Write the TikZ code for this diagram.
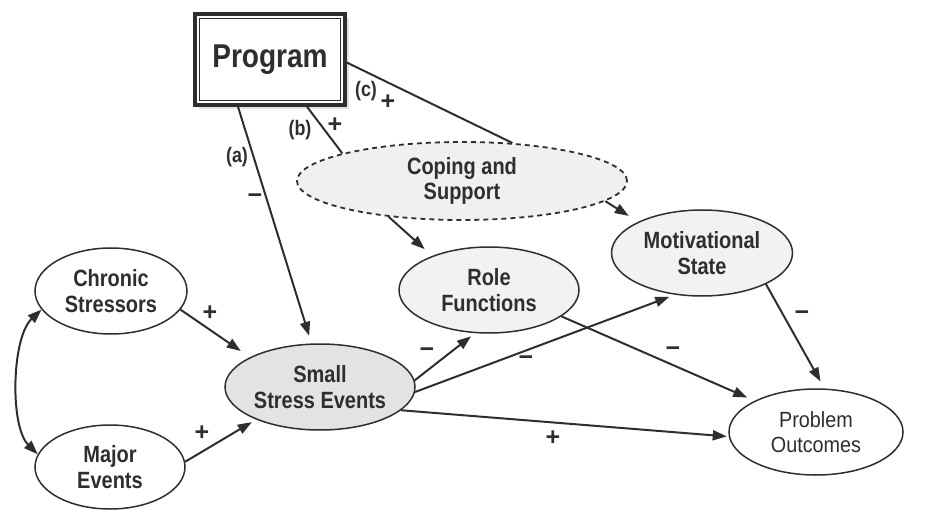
\documentclass[tikz,border=0pt]{standalone}
\usepackage{fontspec}
\setmainfont{Liberation Sans}
\newfontfamily\nar[FakeStretch=0.85]{Liberation Sans}
\newfontfamily\narr[FakeStretch=0.9]{Liberation Sans}
\usetikzlibrary{arrows.meta,shapes.geometric,shadows}
\definecolor{ink}{HTML}{2E2E2E}
\begin{document}
\begin{tikzpicture}[x=1pt,y=-1pt,
  ell/.style={ellipse, draw=ink, line width=1.5pt, inner sep=0pt, align=center,
    font=\nar\fontsize{23.5}{25.5}\selectfont\bfseries, text=ink},
  arr/.style={draw=ink, line width=2pt, -{Triangle[length=14pt,width=10pt]}},
  plain/.style={draw=ink, line width=2pt},
  sign/.style={font=\fontsize{25}{26}\selectfont\bfseries, text=ink, inner sep=0pt},
  lab/.style={font=\nar\fontsize{21}{22}\selectfont\bfseries, text=ink, inner sep=0pt}]
\useasboundingbox (0,0) rectangle (933,510);
% Program box
\node[draw=ink, line width=3.5pt, minimum width=150pt, minimum height=91pt, fill=white,
  inner sep=0pt, font=\nar\fontsize{33}{34}\selectfont\bfseries, text=ink,
  drop shadow={shadow xshift=4pt, shadow yshift=-4pt, fill=gray!45}] (prog) at (270,59.5) {Program};
\draw[ink, line width=1.2pt] ([shift={(6,6)}]prog.north west) rectangle ([shift={(-6,-6)}]prog.south east);
% ellipses
\node[ell, draw=ink, dash pattern=on 5pt off 4pt, line width=1.8pt, fill=gray!12,
  minimum width=330pt, minimum height=78pt] (cop) at (462,181) {Coping and\\Support};
\node[ell, fill=white, minimum width=152pt, minimum height=86pt] (cs) at (111,291) {Chronic\\Stressors};
\node[ell, fill=white, minimum width=150pt, minimum height=84pt] (me) at (110,467) {Major\\Events};
\node[ell, fill=gray!22, minimum width=190pt, minimum height=86pt] (sse) at (320,387) {Small\\Stress Events};
\node[ell, fill=gray!10, minimum width=180pt, minimum height=86pt] (rf) at (489,290) {Role\\Functions};
\node[ell, fill=gray!10, minimum width=181pt, minimum height=86pt] (ms) at (702,253) {Motivational\\State};
\node[ell, fill=white, minimum width=174pt, minimum height=86pt,
  font=\narr\fontsize{22}{25.5}\selectfont] (po) at (816,432) {Problem\\Outcomes};
% connectors
\draw[arr, shorten >=8pt] ([xshift=-32pt]prog.south) -- (sse.101);
\draw[plain] ([xshift=37pt]prog.south) -- (cop.167);
\draw[plain] ([yshift=-3pt]prog.east) -- (cop.37);
\draw[arr, shorten >=10pt] (cop.206) -- (rf.149);
\draw[arr, shorten >=11pt] (cop.-8) -- (ms.154);
\draw[arr, shorten >=11pt] (cs.-15) -- (sse.157);
\draw[arr, shorten >=5pt] (me.4) -- (sse.207);
\draw[draw=ink, line width=2pt, {Triangle[length=14pt,width=10pt]}-{Triangle[length=14pt,width=10pt]}]
  (cs.195) .. controls +(-30,28) and +(-28,-28) .. (me.170);
\draw[arr, shorten >=5pt] (sse.4) -- (rf.252);
\draw[arr, shorten >=6pt] (sse.-3) -- (ms.237);
\draw[arr, shorten >=2pt] (sse.-16) -- (po.183);
\draw[arr, shorten >=8pt] (rf.-20) -- (po.153);
\draw[arr, shorten >=8pt] (ms.-26) -- (po.79);
% labels
\node[lab] (la) at (237,157) {(a)};
\node[lab] (lb) at (300,130) {(b)};
\node[lab] (lc) at (366,91) {(c)};
\node[sign] (sa) at (255,199) {−};
\node[sign] (sb) at (335,125) {+};
\node[sign] (sc) at (388,102) {+};
\node[sign] (s1) at (210,313) {+};
\node[sign] (s2) at (202,433) {+};
\node[sign] (s3) at (427,353) {−};
\node[sign] (s4) at (526,361) {−};
\node[sign] (s5) at (553,438) {+};
\node[sign] (s6) at (673,352) {−};
\node[sign] (s7) at (802,316) {−};
\end{tikzpicture}
\end{document}
